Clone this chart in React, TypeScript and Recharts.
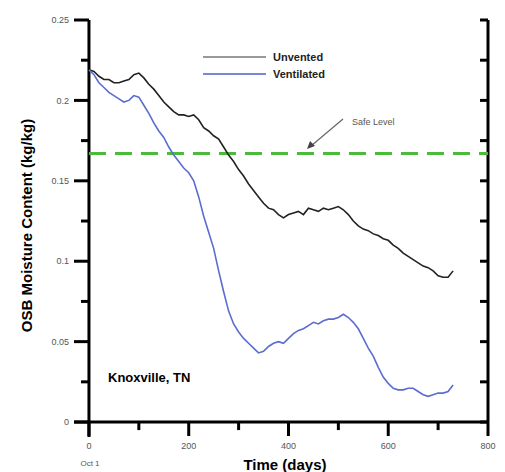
import { LineChart, Line, XAxis, YAxis, ReferenceLine } from 'recharts';

const days = [
  0, 10, 20, 30, 40, 50, 60, 70, 80, 90, 100, 110, 120, 130, 140, 150, 160, 170, 180, 190,
  200, 210, 220, 230, 240, 250, 260, 270, 280, 290, 300, 310, 320, 330, 340, 350, 360, 370, 380, 390,
  400, 410, 420, 430, 440, 450, 460, 470, 480, 490, 500, 510, 520, 530, 540, 550, 560, 570, 580, 590,
  600, 610, 620, 630, 640, 650, 660, 670, 680, 690, 700, 710, 720, 730,
];

const unvented = [
  0.219, 0.218, 0.215, 0.213, 0.213, 0.211, 0.211, 0.212, 0.213, 0.216, 0.217, 0.214, 0.21, 0.207, 0.203, 0.199, 0.196, 0.193, 0.191, 0.191,
  0.19, 0.191, 0.188, 0.183, 0.181, 0.178, 0.176, 0.171, 0.166, 0.162, 0.157, 0.153, 0.148, 0.144, 0.14, 0.136, 0.133, 0.132, 0.129, 0.127,
  0.129, 0.13, 0.131, 0.129, 0.133, 0.132, 0.131, 0.133, 0.132, 0.133, 0.134, 0.132, 0.129, 0.125, 0.122, 0.12, 0.119, 0.117, 0.116, 0.114,
  0.113, 0.11, 0.108, 0.105, 0.103, 0.101, 0.099, 0.097, 0.096, 0.094, 0.091, 0.09, 0.09, 0.094,
];

const ventilated = [
  0.219, 0.216, 0.211, 0.208, 0.205, 0.203, 0.201, 0.199, 0.2, 0.203, 0.202, 0.197, 0.192, 0.186, 0.181, 0.177, 0.171, 0.166, 0.162, 0.158,
  0.155, 0.15, 0.14, 0.128, 0.118, 0.108, 0.094, 0.081, 0.069, 0.061, 0.056, 0.052, 0.049, 0.046, 0.043, 0.044, 0.047, 0.049, 0.05, 0.049,
  0.052, 0.055, 0.057, 0.058, 0.06, 0.062, 0.061, 0.063, 0.064, 0.064, 0.065, 0.067, 0.065, 0.062, 0.058, 0.052, 0.046, 0.041, 0.034, 0.028,
  0.024, 0.021, 0.02, 0.02, 0.021, 0.021, 0.019, 0.017, 0.016, 0.017, 0.018, 0.018, 0.019, 0.023,
];

const safeLevel = 0.167;
const xMajor = [0, 200, 400, 600, 800];
const xMinor = [100, 300, 500, 700];
const yMajor = [0, 0.05, 0.1, 0.15, 0.2, 0.25];
const yMinor = [0.025, 0.075, 0.125, 0.175, 0.225];
const yAll = [0, 0.025, 0.05, 0.075, 0.1, 0.125, 0.15, 0.175, 0.2, 0.225, 0.25];

const data = days.map((d, i) => ({ day: d, unvented: unvented[i], ventilated: ventilated[i] }));

// the plot area runs a little past 0 on both axes so the outward tick marks sit inside it
const X_MIN = -30;
const Y_MIN = -0.0093;
const X_TICK_MAJOR = 0.0087;
const X_TICK_MINOR = 0.005;
const Y_TICK_MAJOR = 30;
const Y_TICK_MINOR = 16;

const FONT = 'Liberation Sans, Arial, sans-serif';
const tickText = { fontSize: 9, fill: '#555', fontFamily: FONT };

const txt = (size: number, bold = false): React.CSSProperties => ({
  position: 'absolute',
  fontFamily: FONT,
  fontSize: size,
  lineHeight: 1,
  fontWeight: bold ? 'bold' : 'normal',
  whiteSpace: 'nowrap',
});

function seg(key: string, x1: number, y1: number, x2: number, y2: number) {
  return (
    <ReferenceLine
      key={key}
      yAxisId="left"
      ifOverflow="visible"
      segment={[{ x: x1, y: y1 }, { x: x2, y: y2 }]}
      stroke="#000"
      strokeWidth={3}
    />
  );
}

export default function App() {
  return (
    <div style={{ position: 'absolute', left: 0, top: 0, width: 505, height: 472, background: '#fff' }}>
      <LineChart width={505} height={472} data={data} margin={{ top: 20, right: 17, bottom: 0, left: 0 }}>
        <XAxis
          dataKey="day"
          type="number"
          domain={[X_MIN, 800]}
          ticks={xMajor}
          interval={0}
          tickSize={0}
          tickMargin={6}
          tickLine={false}
          axisLine={false}
          tick={tickText}
          height={35}
        />
        <YAxis
          yAxisId="left"
          type="number"
          domain={[Y_MIN, 0.25]}
          ticks={yMajor}
          interval={0}
          width={74}
          tickSize={0}
          tickMargin={5}
          tickLine={false}
          axisLine={false}
          tick={tickText}
        />
        {/* axis frame */}
        {seg('left', 0, Y_MIN, 0, 0.25)}
        {seg('bottom', X_MIN, 0, 800, 0)}
        {seg('right', 800, 0, 800, 0.25)}
        {xMajor.map((v) => seg('xM' + v, v, 0, v, -X_TICK_MAJOR))}
        {xMinor.map((v) => seg('xm' + v, v, 0, v, -X_TICK_MINOR))}
        {yMajor.map((v) => seg('yM' + v, -Y_TICK_MAJOR, v, 0, v))}
        {yMinor.map((v) => seg('ym' + v, -Y_TICK_MINOR, v, 0, v))}
        {yAll.map((v) => seg('yr' + v, 784, v, 800, v))}
        <ReferenceLine
          yAxisId="left"
          ifOverflow="visible"
          segment={[{ x: 0, y: safeLevel }, { x: 800, y: safeLevel }]}
          stroke="#4cbb3c"
          strokeWidth={3}
          strokeDasharray="17 9"
        />
        <Line yAxisId="left" dataKey="unvented" stroke="#222" strokeWidth={1.6} dot={false} isAnimationActive={false} />
        <Line yAxisId="left" dataKey="ventilated" stroke="#5b6cd0" strokeWidth={1.6} dot={false} isAnimationActive={false} />
      </LineChart>

      {/* legend */}
      <div style={{ position: 'absolute', left: 203, top: 56, width: 63, height: 2, background: '#999' }} />
      <div style={{ ...txt(11, true), left: 273, top: 52, color: '#222' }}>Unvented</div>
      <div style={{ position: 'absolute', left: 203, top: 73, width: 63, height: 2, background: '#7a88dc' }} />
      <div style={{ ...txt(11, true), left: 273, top: 69, color: '#222' }}>Ventilated</div>

      {/* safe level annotation */}
      <svg width={50} height={45} style={{ position: 'absolute', left: 300, top: 112 }}>
        <line x1={43} y1={7} x2={11} y2={34} stroke="#666" strokeWidth={1.2} />
        <path d="M7,37 L10,29 L15,34 z" fill="#444" />
      </svg>
      <div style={{ ...txt(9), left: 352, top: 118, color: '#555' }}>Safe Level</div>

      <div style={{ ...txt(13, true), left: 108, top: 371, color: '#000' }}>Knoxville, TN</div>

      {/* axis titles */}
      <div
        style={{
          ...txt(15, true),
          left: 26 - 150,
          top: 225 - 7.5,
          width: 300,
          textAlign: 'center',
          transform: 'rotate(-90deg)',
          color: '#000',
        }}
      >
        OSB Moisture Content (kg/kg)
      </div>
      <div style={{ ...txt(15, true), left: 185, top: 457, width: 200, textAlign: 'center', color: '#000' }}>
        Time (days)
      </div>
      <div style={{ ...txt(8), left: 70, top: 460, width: 40, textAlign: 'center', color: '#555' }}>Oct 1</div>
    </div>
  );
}
